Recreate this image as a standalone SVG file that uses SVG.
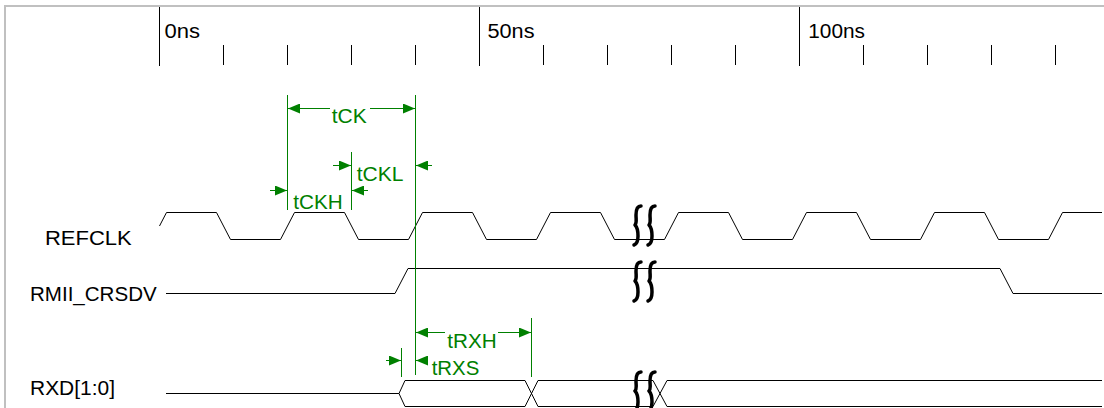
<svg xmlns="http://www.w3.org/2000/svg" width="1104" height="408" viewBox="0 0 1104 408">
<style>
.wave{fill:none;stroke:#000;stroke-width:1}
.tick{stroke:#000;stroke-width:1}
.g{stroke:#008000;stroke-width:1;fill:none}
.ga{stroke:#008000;stroke-width:1;fill:none;marker-end:url(#ah)}
.lbl{font-family:"Liberation Sans",Arial,sans-serif;font-size:19.5px;fill:#000}
.gl{font-family:"Liberation Sans",Arial,sans-serif;font-size:19.5px;fill:#008000}
.brk{fill:none;stroke:#000;stroke-width:3.5;stroke-linecap:round;stroke-linejoin:round}
</style>
<defs>
<marker id="ah" viewBox="0 0 12 10" refX="12" refY="5" markerUnits="userSpaceOnUse" markerWidth="12.5" markerHeight="10" orient="auto">
<path d="M0,0 L12,5 L0,10 z" fill="#008000"/>
</marker>
<path id="sq" d="M4,1 C0,1 -1,5 -1,10 C-1,15 0,18 -2,20 C0,22 1,26 1,31 C1,36 0,39 -3,40"/>
</defs>
<rect x="0" y="0" width="1104" height="408" fill="#fff"/>
<g id="frame">
<line x1="5" y1="6" x2="5" y2="408" stroke="#c0c0c0" stroke-width="2"/>
<line x1="4" y1="6" x2="1104" y2="6" stroke="#c0c0c0" stroke-width="2"/>
</g>
<g id="timescale">
<line class="tick" x1="159.5" y1="7" x2="159.5" y2="66"/>
<line class="tick" x1="479.5" y1="7" x2="479.5" y2="66"/>
<line class="tick" x1="799.5" y1="7" x2="799.5" y2="66"/>
<line class="tick" x1="223.5" y1="45" x2="223.5" y2="65"/>
<line class="tick" x1="287.5" y1="45" x2="287.5" y2="65"/>
<line class="tick" x1="351.5" y1="45" x2="351.5" y2="65"/>
<line class="tick" x1="415.5" y1="45" x2="415.5" y2="65"/>
<line class="tick" x1="543.5" y1="45" x2="543.5" y2="65"/>
<line class="tick" x1="607.5" y1="45" x2="607.5" y2="65"/>
<line class="tick" x1="671.5" y1="45" x2="671.5" y2="65"/>
<line class="tick" x1="735.5" y1="45" x2="735.5" y2="65"/>
<line class="tick" x1="863.5" y1="45" x2="863.5" y2="65"/>
<line class="tick" x1="927.5" y1="45" x2="927.5" y2="65"/>
<line class="tick" x1="991.5" y1="45" x2="991.5" y2="65"/>
<line class="tick" x1="1055.5" y1="45" x2="1055.5" y2="65"/>
<text class="lbl" x="164.5" y="38" textLength="35.5" lengthAdjust="spacingAndGlyphs">0ns</text>
<text class="lbl" x="487.5" y="38" textLength="47" lengthAdjust="spacingAndGlyphs">50ns</text>
<text class="lbl" x="808.3" y="38" textLength="56.7" lengthAdjust="spacingAndGlyphs">100ns</text>
</g>
<g id="REFCLK">
<text class="lbl" x="45" y="245" textLength="86.7" lengthAdjust="spacingAndGlyphs">REFCLK</text>
<path class="wave" d="M159.5,226 L166.5,212.5 L216.5,212.5 L230.5,239.5 L280.5,239.5 L294.5,212.5 L344.5,212.5 L358.5,239.5 L408.5,239.5 L422.5,212.5 L472.5,212.5 L486.5,239.5 L536.5,239.5 L550.5,212.5 L600.5,212.5 L614.5,239.5 L664.5,239.5 L678.5,212.5 L728.5,212.5 L742.5,239.5 L792.5,239.5 L806.5,212.5 L856.5,212.5 L870.5,239.5 L920.5,239.5 L934.5,212.5 L984.5,212.5 L998.5,239.5 L1048.5,239.5 L1062.5,212.5 L1102,212.5"/>
<use href="#sq" class="brk" x="637" y="205"/>
<use href="#sq" class="brk" x="651" y="205"/>
</g>
<g id="RMII_CRSDV">
<text class="lbl" x="30" y="301" textLength="126.7" lengthAdjust="spacingAndGlyphs">RMII_CRSDV</text>
<path class="wave" d="M166,293.5 L395,293.5 L408,268.5 L1000,268.5 L1013,293.5 L1102,293.5"/>
<use href="#sq" class="brk" x="637" y="261"/>
<use href="#sq" class="brk" x="651" y="261"/>
</g>
<g id="RXD">
<text class="lbl" x="30" y="395" textLength="85" lengthAdjust="spacingAndGlyphs">RXD[1:0]</text>
<path class="wave" d="M166,393.5 L399,393.5"/>
<path class="wave" d="M399,393.5 L405,380.5 L525,380.5 L538,406.5 L653,406.5 L667,380.5 L1102,380.5"/>
<path class="wave" d="M399,393.5 L405,406.5 L525,406.5 L538,380.5 L653,380.5 L667,406.5 L1102,406.5"/>
<use href="#sq" class="brk" x="637" y="371"/>
<use href="#sq" class="brk" x="651" y="371"/>
</g>
<g id="connectors">
<line class="g" x1="287.5" y1="95" x2="287.5" y2="210"/>
<line class="g" x1="415.5" y1="95" x2="415.5" y2="375"/>
<line class="g" x1="351.5" y1="152" x2="351.5" y2="210"/>
<line class="g" x1="401.5" y1="348" x2="401.5" y2="377"/>
<line class="g" x1="531.5" y1="318" x2="531.5" y2="377"/>
<line class="ga" x1="330" y1="108.5" x2="288" y2="108.5"/>
<line class="ga" x1="370" y1="108.5" x2="415" y2="108.5"/>
<line class="ga" x1="270" y1="190.5" x2="287" y2="190.5"/>
<line class="ga" x1="368" y1="190.5" x2="352" y2="190.5"/>
<line class="ga" x1="333" y1="165.5" x2="351" y2="165.5"/>
<line class="ga" x1="432" y1="165.5" x2="416" y2="165.5"/>
<line class="ga" x1="386" y1="360.5" x2="401" y2="360.5"/>
<line class="ga" x1="428" y1="360.5" x2="416" y2="360.5"/>
<line class="ga" x1="445" y1="332.5" x2="416" y2="332.5"/>
<line class="ga" x1="498" y1="332.5" x2="531" y2="332.5"/>
</g>
<g id="labels">
<text class="gl" x="331.7" y="123.3" textLength="35" lengthAdjust="spacingAndGlyphs">tCK</text>
<text class="gl" x="356.7" y="180.7" textLength="46.7" lengthAdjust="spacingAndGlyphs">tCKL</text>
<text class="gl" x="293.3" y="209.3" textLength="49.4" lengthAdjust="spacingAndGlyphs">tCKH</text>
<text class="gl" x="447.3" y="348.3" textLength="49.4" lengthAdjust="spacingAndGlyphs">tRXH</text>
<text class="gl" x="431.7" y="375" textLength="47.6" lengthAdjust="spacingAndGlyphs">tRXS</text>
</g>
</svg>
